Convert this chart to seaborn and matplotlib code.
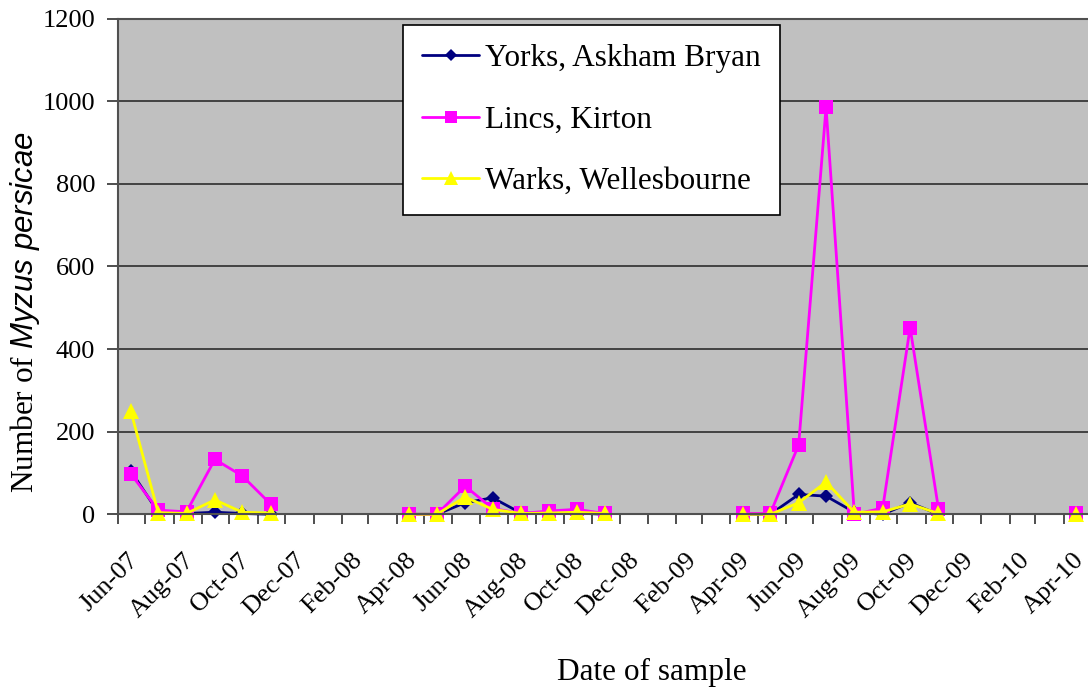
import matplotlib
matplotlib.use("Agg")
import matplotlib.pyplot as plt
import matplotlib.dates as mdates
from matplotlib.ticker import FuncFormatter
from matplotlib.transforms import ScaledTranslation
import seaborn as sns
import pandas as pd


# datas de coleta (meio do mes) e temporada de cada coleta
datas = [
    "2007-06-15", "2007-07-15", "2007-08-15", "2007-09-15", "2007-10-15", "2007-11-15",
    "2008-04-15", "2008-05-15", "2008-06-15", "2008-07-15", "2008-08-15", "2008-09-15",
    "2008-10-15", "2008-11-15",
    "2009-04-15", "2009-05-15", "2009-06-15", "2009-07-15", "2009-08-15", "2009-09-15",
    "2009-10-15", "2009-11-15",
    "2010-04-15",
]
temporada = [
    2007, 2007, 2007, 2007, 2007, 2007,
    2008, 2008, 2008, 2008, 2008, 2008, 2008, 2008,
    2009, 2009, 2009, 2009, 2009, 2009, 2009, 2009,
    2010,
]

locais = ["Yorks, Askham Bryan", "Lincs, Kirton", "Warks, Wellesbourne"]

yorks = [105, 5, 2, 5, 2, 0,
         0, 0, 28, 40, 3, 2, 3, 0,
         0, 0, 48, 44, 5, 0, 28, 0,
         0]
lincs = [98, 10, 6, 133, 93, 25,
         0, 0, 68, 14, 2, 8, 12, 2,
         2, 2, 168, 985, 0, 15, 452, 14,
         2]
warks = [250, 4, 2, 35, 5, 3,
         0, 0, 42, 12, 2, 3, 5, 2,
         0, 0, 28, 78, 5, 6, 25, 2,
         0]

cores = {locais[0]: "#000080", locais[1]: "#FF00FF", locais[2]: "#FFFF00"}
marcadores = {locais[0]: "D", locais[1]: "s", locais[2]: "^"}
tamanhos = {"D": 7.0, "s": 10.5, "^": 12.0}


# estilo
sns.set_style("ticks", {"axes.facecolor": "#C0C0C0"})
plt.rcParams["font.family"] = ["Liberation Serif", "DejaVu Serif"]
plt.rcParams["mathtext.fontset"] = "custom"
plt.rcParams["mathtext.it"] = "Liberation Sans:italic"
plt.rcParams["mathtext.rm"] = "Liberation Serif"
plt.rcParams["text.color"] = "black"
plt.rcParams["axes.labelcolor"] = "black"
plt.rcParams["xtick.labelcolor"] = "black"
plt.rcParams["ytick.labelcolor"] = "black"


# formato longo
base = pd.DataFrame({
    "data": pd.to_datetime(datas),
    "temporada": temporada,
    locais[0]: yorks,
    locais[1]: lincs,
    locais[2]: warks,
})
dados = base.melt(id_vars=["data", "temporada"], var_name="local", value_name="n")


# figura
fig = plt.figure(figsize=(10.88, 6.89), dpi=100)
ax = fig.add_axes([118 / 1088, 1 - 514.3 / 689, (1091 - 118) / 1088, (514.3 - 18.7) / 689])

ax.yaxis.grid(True, color="#202020", linewidth=1.1)
ax.set_axisbelow(True)

sns.lineplot(
    data=dados,
    x="data",
    y="n",
    hue="local",
    style="local",
    units="temporada",
    estimator=None,
    palette=cores,
    markers=marcadores,
    dashes=False,
    linewidth=2.0,
    markeredgewidth=0,
    ax=ax
)

for linha in ax.lines:
    m = linha.get_marker()
    if m in tamanhos:
        linha.set_markersize(tamanhos[m])
        linha.set_clip_on(False)


# eixos
ax.set_xlim(pd.Timestamp("2007-06-01"), pd.Timestamp("2010-05-01"))
ax.set_ylim(0, 1200)
ax.set_yticks(range(0, 1201, 200))


def rotulo_mes(v, pos):
    d = mdates.num2date(v)
    return d.strftime("%b-%y") if d.month % 2 == 0 else ""


ax.xaxis.set_major_locator(mdates.MonthLocator())
ax.xaxis.set_major_formatter(FuncFormatter(rotulo_mes))

ax.tick_params(axis="x", direction="out", length=7, width=1.3, color="#404040",
               labelsize=19, pad=13)
ax.tick_params(axis="y", direction="out", length=8, width=1.3, color="#404040",
               labelsize=19, pad=8.5)
desloc = ScaledTranslation(9 / 100, -7 / 100, fig.dpi_scale_trans)
for rot in ax.get_xticklabels():
    rot.set_rotation(45)
    rot.set_ha("right")
    rot.set_va("top")
    rot.set_rotation_mode("anchor")
    rot.set_transform(rot.get_transform() + desloc)

for lado in ["left", "bottom", "top"]:
    ax.spines[lado].set_color("#505050")
    ax.spines[lado].set_linewidth(1.5)
ax.spines["right"].set_visible(False)

ax.set_xlabel("Date of sample", fontsize=22.5, va="center")
ax.xaxis.set_label_coords((652 - 118) / (1091 - 118), (514.3 - 672) / (514.3 - 18.7))
ax.set_ylabel(r"Number of $\mathit{Myzus\ persicae}$", fontsize=22.5, va="center")
ax.yaxis.set_label_coords((25 - 118) / (1091 - 118), (514.3 - 312) / (514.3 - 18.7))


# legenda
sns.move_legend(
    ax,
    loc="upper left",
    bbox_to_anchor=(403 / 1088, 1 - 25 / 689),
    bbox_transform=fig.transFigure,
    title=None,
    fontsize=22.5,
    frameon=True,
    fancybox=False,
    facecolor="white",
    framealpha=1,
    edgecolor="black",
    borderpad=0.62,
    labelspacing=1.03,
    handlelength=1.8,
    handletextpad=0.2,
    borderaxespad=0
)
leg = ax.get_legend()
leg.get_frame().set_linewidth(1.2)
for h in leg.legend_handles:
    m = h.get_marker()
    if m in tamanhos:
        h.set_markersize(tamanhos[m] * 0.85)
        h.set_markeredgewidth(0)
    h.set_linewidth(2.0)

fig.savefig("out.png", dpi=100)
